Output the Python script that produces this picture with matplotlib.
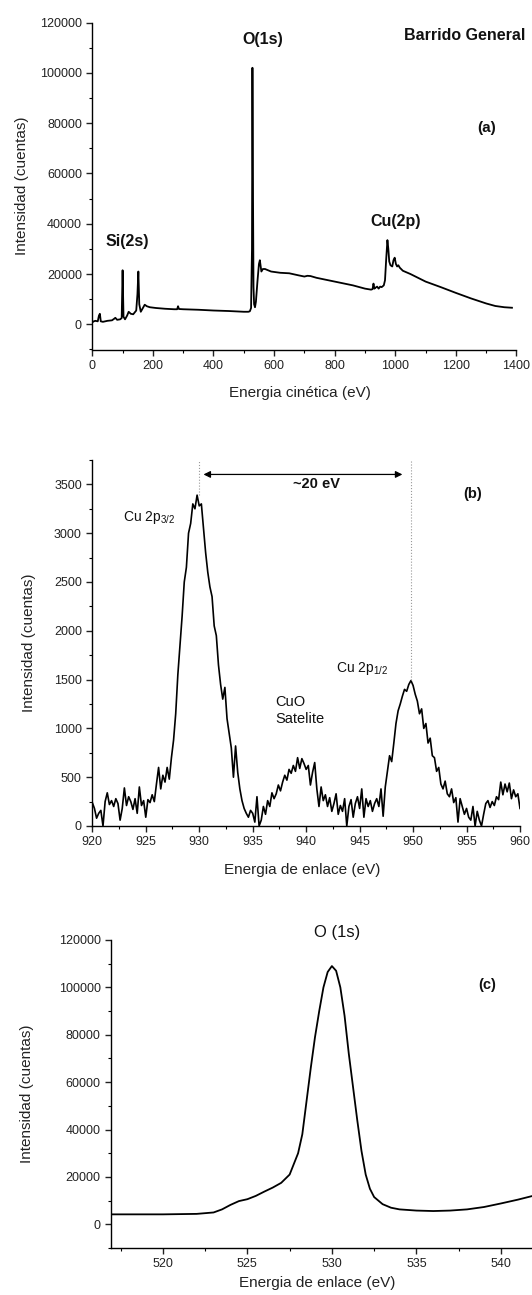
import matplotlib
matplotlib.use("Agg")
import matplotlib.pyplot as plt
from matplotlib.ticker import MultipleLocator
import numpy as np

plt.rcParams["font.family"] = ["Liberation Sans", "DejaVu Sans"]
plt.rcParams["mathtext.fontset"] = "custom"
plt.rcParams["mathtext.rm"] = "Liberation Sans"
plt.rcParams["mathtext.it"] = "Liberation Sans:italic"
plt.rcParams["mathtext.bf"] = "Liberation Sans:bold"

# ---------------- (a) barrido general ----------------
survey_ke = [0, 5, 10, 18, 22, 25, 28, 35, 50, 65, 72, 76, 82, 92, 97, 100, 103,
             108, 115, 120, 127, 135, 145, 149, 152, 155, 160, 167, 173, 180, 190,
             210, 240, 270, 280, 283, 286, 300, 350, 400, 450, 500, 515, 520, 524,
             527, 528.5, 530, 532, 534, 537, 540, 545, 550, 553, 558, 563, 570, 590,
             620, 650, 680, 700, 710, 720, 740, 780, 820, 860, 900, 920, 925, 928,
             931, 935, 940, 945, 950, 955, 962, 966, 970, 974, 977, 980, 984, 990,
             994, 998, 1002, 1006, 1010, 1015, 1025, 1050, 1100, 1150, 1200, 1250,
             1300, 1330, 1360, 1385]
survey_counts = [800, 1200, 1400, 1200, 3500, 4200, 1200, 1000, 1400, 1600, 2200,
                 2600, 1800, 2000, 2500, 21500, 3000, 2000, 3500, 5000, 4200, 4000,
                 5500, 12000, 21000, 8000, 5000, 6500, 7800, 7200, 6800, 6500, 6200,
                 6000, 6000, 7200, 6100, 6000, 5800, 5500, 5300, 5000, 5000, 5200,
                 6500, 30000, 102000, 60000, 15000, 8000, 6800, 9000, 17000, 24000,
                 25500, 21000, 22000, 22000, 21000, 20500, 20300, 19500, 19000, 19300,
                 19200, 18500, 17500, 16500, 15500, 14200, 13800, 14000, 16200, 14200,
                 14600, 15000, 14200, 15000, 14800, 15500, 17500, 26000, 33500, 30000,
                 25000, 23500, 23000, 25500, 26500, 24000, 23000, 23500, 22500, 21300,
                 20000, 17000, 14800, 12500, 10300, 8300, 7300, 6800, 6600]

# ---------------- (b) Cu 2p ----------------
cu_be = np.round(np.arange(920.0, 960.01, 0.2), 1)
cu_counts = [
    240, 180, 80, 130, 160, 0, 250, 340, 220, 260,
    200, 280, 230, 60, 180, 390, 210, 300, 250, 170,
    280, 130, 400, 210, 260, 90, 270, 240, 320, 250,
    430, 600, 380, 520, 450, 600, 480, 700, 880, 1150,
    1550, 1850, 2150, 2500, 2650, 3000, 3100, 3300, 3250, 3390,
    3280, 3300, 3050, 2800, 2600, 2450, 2350, 2050, 1950, 1650,
    1450, 1300, 1420, 1100, 950, 800, 500, 820, 550, 380,
    260, 180, 130, 90, 160, 130, 40, 300, 0, 60,
    200, 120, 260, 200, 340, 280, 330, 420, 360, 450,
    520, 470, 580, 540, 620, 560, 700, 590, 690, 640,
    580, 620, 420, 550, 650, 380, 200, 400, 260, 320,
    200, 290, 150, 230, 330, 120, 210, 150, 280, 0,
    200, 270, 90, 230, 300, 180, 380, 90, 280, 200,
    260, 150, 230, 280, 200, 380, 100, 400, 560, 720,
    660, 850, 1050, 1180, 1250, 1330, 1400, 1380, 1450, 1490,
    1440, 1350, 1280, 1150, 1200, 1000, 1050, 850, 900, 720,
    700, 560, 600, 430, 380, 460, 330, 300, 380, 240,
    290, 40, 280, 200, 120, 180, 90, 60, 200, 0,
    150, 60, 0, 120, 230, 260, 190, 250, 210, 300,
    270, 450, 320, 430, 350, 440, 280, 370, 300, 330,
    180,
]
peak_32 = (930.0, 3390)
peak_12 = (949.8, 1494)

# ---------------- (c) O 1s ----------------
o_be = [516.9, 518, 519, 520, 521, 522, 523, 523.5, 524, 524.5, 525, 525.5, 526,
        526.5, 527, 527.5, 528, 528.25, 528.5, 528.75, 529, 529.25, 529.5, 529.75,
        530, 530.25, 530.5, 530.75, 531, 531.25, 531.5, 531.75, 532, 532.25, 532.5,
        533, 533.5, 534, 535, 536, 537, 538, 539, 540, 541, 542]
o_counts = [4200, 4200, 4200, 4200, 4300, 4400, 5000, 6300, 8200, 9800, 10600,
            12000, 13800, 15500, 17500, 21000, 30000, 38000, 52000, 66000, 79000,
            90000, 100000, 106500, 109000, 107000, 100000, 88000, 72000, 58000,
            44000, 31000, 21000, 15000, 11500, 8500, 7000, 6300, 5800, 5600, 5800,
            6300, 7300, 8800, 10400, 12200]

W, H = 532, 1295
fig = plt.figure(figsize=(W / 100, H / 100), dpi=100)


def frac(left, top, right, bottom):
    return [left / W, 1 - bottom / H, (right - left) / W, (bottom - top) / H]


def style(ax):
    for s in ("top", "right"):
        ax.spines[s].set_visible(False)
    for s in ("left", "bottom"):
        ax.spines[s].set_linewidth(1.0)
    ax.tick_params(which="major", direction="out", length=4, width=1,
                   labelsize=9, colors="#222")
    ax.tick_params(which="minor", direction="out", length=2.5, width=0.8)


tc = "#111"
lab = dict(fontsize=11, color="#222")

# (a)
ax1 = fig.add_axes(frac(92.3, 22.5, 516.5, 349.5))
ax1.plot(survey_ke, survey_counts, color="black", lw=1.3)
ax1.set_xlim(0, 1400)
ax1.set_ylim(-10000, 120000)
ax1.set_yticks(np.arange(0, 120001, 20000))
ax1.yaxis.set_minor_locator(MultipleLocator(10000))
ax1.xaxis.set_minor_locator(MultipleLocator(100))
style(ax1)
ax1.set_xlabel("Energia cinética (eV)", **lab)
ax1.set_ylabel("Intensidad (cuentas)", **lab)
ax1.xaxis.set_label_coords(0.49, -0.112)
ax1.yaxis.set_label_coords(-0.149, 0.5)
ax1.text(564, 113300, "O(1s)", ha="center", va="center", fontsize=11.5, fontweight="bold", color=tc)
ax1.text(1228, 115000, "Barrido General", ha="center", va="center", fontsize=11.5, fontweight="bold", color=tc)
ax1.text(1302, 77900, "(a)", ha="center", va="center", fontsize=11, fontweight="bold", color=tc)
ax1.text(114, 32800, "Si(2s)", ha="center", va="center", fontsize=11.5, fontweight="bold", color=tc)
ax1.text(1002, 41000, "Cu(2p)", ha="center", va="center", fontsize=11.5, fontweight="bold", color=tc)

# (b)
ax2 = fig.add_axes(frac(92.3, 460, 520, 826))
ax2.plot(cu_be, cu_counts, color="black", lw=1.2)
ax2.set_xlim(920, 960)
ax2.set_ylim(0, 3750)
ax2.set_yticks(np.arange(0, 3501, 500))
ax2.yaxis.set_minor_locator(MultipleLocator(250))
ax2.xaxis.set_minor_locator(MultipleLocator(2.5))
style(ax2)
ax2.set_xlabel("Energia de enlace (eV)", **lab)
ax2.set_ylabel("Intensidad (cuentas)", **lab)
ax2.xaxis.set_label_coords(0.49, -0.1)
ax2.yaxis.set_label_coords(-0.132, 0.5)
for px, py in (peak_32, peak_12):
    ax2.plot([px, px], [py, 3750], color="#999", lw=0.8, ls=":")
ax2.annotate("", xy=(930.4, 3602), xytext=(949.0, 3602),
             arrowprops=dict(arrowstyle="<|-|>", color="black", lw=0.9,
                             mutation_scale=10, shrinkA=0, shrinkB=0))
ax2.text(941.0, 3500, "~20 eV", ha="center", va="center", fontsize=10.5, fontweight="bold", color=tc)
ax2.text(955.6, 3405, "(b)", ha="center", va="center", fontsize=10.5, fontweight="bold", color=tc)
ax2.text(922.9, 3165, r"Cu 2p$_{\mathregular{3/2}}$", ha="left", va="center", fontsize=10, color=tc)
ax2.text(942.75, 1617, r"Cu 2p$_{\mathregular{1/2}}$", ha="left", va="center", fontsize=10, color=tc)
ax2.text(937.1, 1180, "CuO\nSatelite", ha="left", va="center", fontsize=10.5, color=tc, linespacing=1.25)

# (c)
ax3 = fig.add_axes(frac(111, 940, 532, 1248))
ax3.plot(o_be, o_counts, color="black", lw=1.3)
ax3.set_xlim(516.93, 541.84)
ax3.set_ylim(-10000, 120000)
ax3.set_xticks([520, 525, 530, 535, 540])
ax3.set_yticks(np.arange(0, 120001, 20000))
ax3.yaxis.set_minor_locator(MultipleLocator(10000))
ax3.xaxis.set_minor_locator(MultipleLocator(2.5))
style(ax3)
ax3.set_xlabel("Energia de enlace (eV)", **lab)
ax3.set_ylabel("Intensidad (cuentas)", **lab)
ax3.xaxis.set_label_coords(0.49, -0.092)
ax3.yaxis.set_label_coords(-0.183, 0.5)
ax3.text(530.3, 123300, "O (1s)", ha="center", va="center", fontsize=12, color=tc, clip_on=False)
ax3.text(539.2, 100800, "(c)", ha="center", va="center", fontsize=10.5, fontweight="bold", color=tc)

fig.savefig("out.png", dpi=100, facecolor="white")
